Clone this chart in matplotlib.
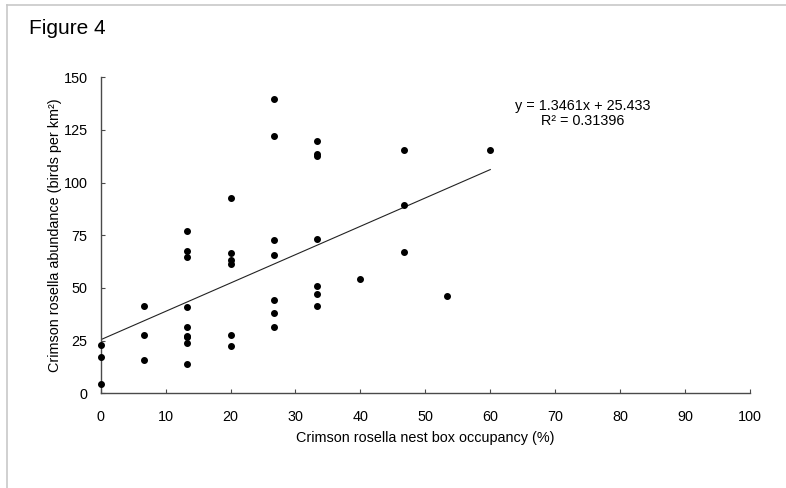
import numpy as np
import matplotlib
matplotlib.use("Agg")
from matplotlib import pyplot as plt
from matplotlib.lines import Line2D

plt.rcParams["font.family"] = ["Liberation Sans", "DejaVu Sans"]

# nest box occupancy (%) and abundance (birds per km2)
occupancy = [0, 0, 0,
             6.67, 6.67, 6.67,
             13.33, 13.33, 13.33, 13.33, 13.33, 13.33, 13.33, 13.33, 13.33,
             20, 20, 20, 20, 20, 20,
             26.67, 26.67, 26.67, 26.67, 26.67, 26.67, 26.67,
             33.33, 33.33, 33.33, 33.33, 33.33, 33.33, 33.33,
             40,
             46.67, 46.67, 46.67,
             53.33,
             60]
abundance = [22.8, 17.2, 4.4,
             41.6, 27.7, 15.7,
             76.9, 67.5, 64.5, 40.8, 31.5, 27.2, 26.7, 23.7, 13.9,
             92.8, 66.6, 63.3, 61.5, 27.7, 22.3,
             139.7, 122.1, 72.8, 65.5, 44.4, 38.0, 31.6,
             119.6, 113.4, 112.6, 73.1, 50.8, 47.3, 41.4,
             54.4,
             115.6, 89.5, 67.2,
             46.0,
             115.3]

slope = 1.3461
intercept = 25.433
r_squared = 0.31396

x_ticks = list(range(0, 101, 10))
y_ticks = [0, 25, 50, 75, 100, 125, 150]

fs = 10.4

fig = plt.figure(figsize=(7.86, 4.88), dpi=100)
ax = fig.add_axes([100.7 / 786, 1 - 393.3 / 488, (750 - 100.7) / 786, (393.3 - 77.3) / 488])

ax.scatter(occupancy, abundance, s=16, color="black", zorder=3, clip_on=False)

# trendline over the range of the data
fit_x = np.array([min(occupancy), max(occupancy)])
ax.plot(fit_x, slope * fit_x + intercept, color="#222222", lw=0.8)

ax.text(74.3, 133, f"y = {slope}x + {intercept}\nR\u00b2 = {r_squared}",
        ha="center", va="center", fontsize=fs, linespacing=1.1)

ax.set_xlim(0, 100)
ax.set_ylim(0, 150)
ax.set_xticks(x_ticks)
ax.set_yticks(y_ticks)
for side in ["top", "right"]:
    ax.spines[side].set_visible(False)
for side in ["left", "bottom"]:
    ax.spines[side].set_color("#4a4a4a")
    ax.spines[side].set_linewidth(1.0)
ax.tick_params(axis="both", direction="in", length=3, color="#4a4a4a", labelsize=fs)
ax.tick_params(axis="x", pad=12)
ax.tick_params(axis="y", pad=9.5)

ax.set_xlabel("Crimson rosella nest box occupancy (%)", fontsize=fs, labelpad=5)
ax.set_ylabel("Crimson rosella abundance (birds per km\u00b2)", fontsize=fs)
ax.yaxis.set_label_coords(-0.060, 0.5)

fig.text(29 / 786, 1 - 28 / 488, "Figure 4", fontsize=15, va="center", ha="left")

# light frame on top and left edge
fig.add_artist(Line2D([7 / 786, 1], [1 - 5 / 488, 1 - 5 / 488], color="#c8c8c8", lw=1.2))
fig.add_artist(Line2D([7 / 786, 7 / 786], [0, 1 - 5 / 488], color="#c8c8c8", lw=1.2))

fig.savefig("out.png", dpi=100)
